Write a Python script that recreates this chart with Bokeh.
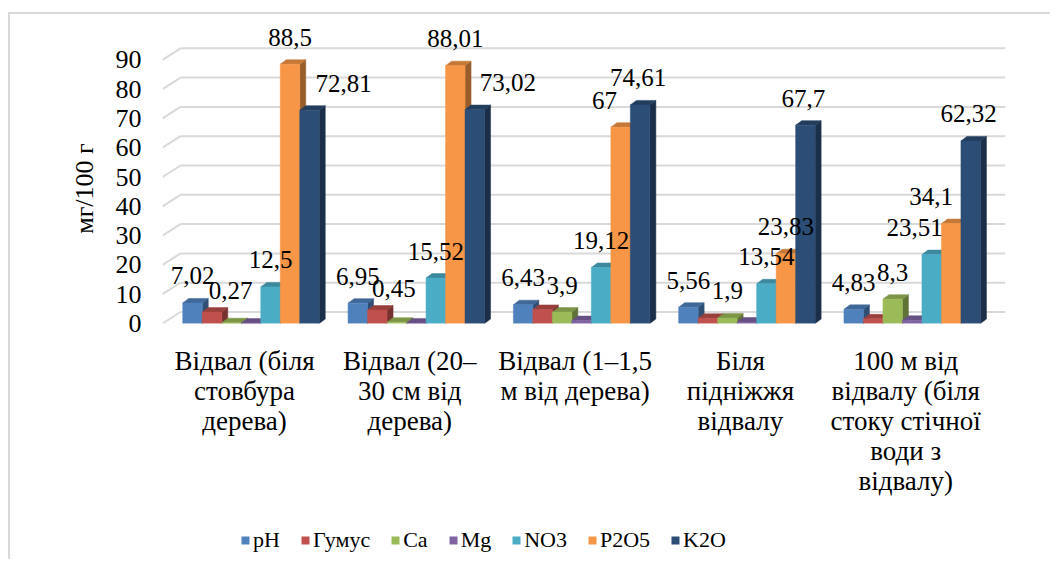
from bokeh.plotting import figure
from bokeh.layouts import column
from bokeh.models import Range1d, FixedTicker, ColumnDataSource, Legend, LegendItem
from bokeh.core.properties import value
from bokeh.embed import file_html
from bokeh.resources import INLINE

# ---------------- data ----------------
categories = [
    "Відвал (біля\nстовбура\nдерева)",
    "Відвал (20–\n30 см від\nдерева)",
    "Відвал (1–1,5\nм від дерева)",
    "Біля\nпідніжжя\nвідвалу",
    "100 м від\nвідвалу (біля\nстоку стічної\nводи з\nвідвалу)",
]
series_names = ["pH", "Гумус", "Ca", "Mg", "NO3", "P2O5", "K2O"]
ph = [7.02, 6.95, 6.43, 5.56, 4.83]
humus = [3.9, 4.6, 4.8, 1.8, 1.6]
ca = [0.27, 0.45, 3.9, 1.9, 8.3]
mg = [0.15, 0.2, 1.0, 0.5, 1.1]
no3 = [12.5, 15.52, 19.12, 13.54, 23.51]
p2o5 = [88.5, 88.01, 67, 23.83, 34.1]
k2o = [72.81, 73.02, 74.61, 67.7, 62.32]
y_ticks = [0, 10, 20, 30, 40, 50, 60, 70, 80, 90]
y_title = "мг/100 г"
series_values = [ph, humus, ca, mg, no3, p2o5, k2o]

# ---------------- styles ----------------
colors = ["#4F81BD", "#C0504D", "#9BBB59", "#8064A2", "#4BACC6", "#F79646", "#2C4D75"]
show_labels = [True, False, True, False, True, True, True]
label_dx = [  # screen px shifts of data labels
    [0, 0, 0, 0, 0],
    [0, 0, 0, 0, 0],
    [-1, -3, 0, 0, 0],
    [0, 0, 0, 0, 0],
    [0, 0, 0, 0, -17],
    [0, 0, -16, 0, -20],
    [34, 33, -2, -2, -2],
]
label_dy = [
    [-27] * 5,
    [-27] * 5,
    [-32, -34, -27, -27, -27],
    [-27] * 5,
    [-27] * 5,
    [-27] * 5,
    [-27] * 5,
]
FONT = "'Liberation Serif', 'Times New Roman', serif"
GRID = "#d9d9d9"

W, H = 1040, 495
LEG_H = 50
FR_L, FR_R, FR_B = 152, 995, 309          # frame edges in canvas px
PX_X = 165.3                              # px per category
PX_Y = 2.93                               # px per unit
x_start = -82 / PX_X
x_end = x_start + (FR_R - FR_L) / PX_X
y_end = FR_B / PX_Y

BAR_W = 19.5 / PX_X
BAR_SHIFT = 6.5 / PX_X
DX = 6 / PX_X
DY = 4.5 / PX_Y
WALL_DX = 18 / PX_X
WALL_DY = 11.5 / PX_Y


def shade(hex_color, f):
    h = hex_color.lstrip("#")
    r, g, b = (int(h[i:i + 2], 16) for i in (0, 2, 4))
    return "#%02x%02x%02x" % (int(r * f), int(g * f), int(b * f))


def centers(k, vals):
    n = len(series_names)
    return [i + BAR_SHIFT + (k - (n - 1) / 2) * BAR_W for i in range(len(vals))]


p = figure(width=W, height=H, output_backend="svg", toolbar_location=None,
           x_range=Range1d(x_start, x_end), y_range=Range1d(0, y_end),
           min_border_left=FR_L, min_border_right=W - FR_R,
           min_border_top=0, min_border_bottom=H - FR_B)
p.outline_line_color = None
p.grid.visible = False
p.background_fill_color = "white"
p.border_fill_color = "white"

# 3D-like gridlines (back wall + floor diagonal)
gx0, gy0, gx1, gy1 = [], [], [], []
for t in y_ticks:
    gx0 += [x_start, x_start + WALL_DX]
    gy0 += [t, t + WALL_DY]
    gx1 += [x_start + WALL_DX, x_end]
    gy1 += [t + WALL_DY, t + WALL_DY]
p.segment(gx0, gy0, gx1, gy1, line_color=GRID, line_width=2)

for k, (name, vals) in enumerate(zip(series_names, series_values)):
    cx = centers(k, vals)
    x0 = [c - BAR_W / 2 for c in cx]
    x1 = [c + BAR_W / 2 for c in cx]
    side_xs = [[b, b, b + DX, b + DX] for b in x1]
    side_ys = [[0, v, v + DY, DY] for v in vals]
    top_xs = [[a, b, b + DX, a + DX] for a, b in zip(x0, x1)]
    top_ys = [[v, v, v + DY, v + DY] for v in vals]
    p.patches(side_xs, side_ys, fill_color=shade(colors[k], 0.62),
              line_color=shade(colors[k], 0.62), line_width=0.5)
    p.patches(top_xs, top_ys, fill_color=shade(colors[k], 0.8),
              line_color=shade(colors[k], 0.8), line_width=0.5)
    p.vbar(x=cx, width=BAR_W, top=vals, bottom=0, fill_color=colors[k],
           line_color=colors[k], line_width=0.5)

for k, (name, vals) in enumerate(zip(series_names, series_values)):
    if not show_labels[k]:
        continue
    src = ColumnDataSource(dict(
        x=centers(k, vals), y=vals,
        t=[f"{v:g}".replace(".", ",") for v in vals],
        dx=label_dx[k], dy=label_dy[k]))
    p.text(x="x", y="y", text="t", x_offset="dx", y_offset="dy", source=src,
           text_font=value(FONT), text_font_size="25px", text_color="black",
           text_align="center", text_baseline="middle")

# y axis
ya = p.yaxis[0]
ya.ticker = FixedTicker(ticks=y_ticks)
ya.axis_line_color = None
ya.major_tick_line_color = None
ya.minor_tick_line_color = None
ya.major_label_standoff = 15
ya.major_label_text_font = FONT
ya.major_label_text_font_size = "26px"
ya.major_label_text_color = "black"
ya.axis_label = y_title + "\u00a0" * 6
ya.axis_label_text_font = FONT
ya.axis_label_text_font_size = "26px"
ya.axis_label_text_font_style = "normal"
ya.axis_label_text_color = "black"
ya.axis_label_standoff = 14

# x axis
xa = p.xaxis[0]
xa.ticker = FixedTicker(ticks=list(range(len(categories))))
xa.major_label_overrides = {i: c for i, c in enumerate(categories)}
xa.axis_line_color = None
xa.major_tick_line_color = None
xa.minor_tick_line_color = None
xa.major_label_standoff = 16
xa.major_label_text_font = FONT
xa.major_label_text_font_size = "27px"
xa.major_label_text_line_height = 1.0
xa.major_label_text_color = "black"

# legend in its own strip below (its renderers are hidden; only the key is shown)
pl = figure(width=W, height=LEG_H, output_backend="svg", toolbar_location=None,
            x_range=Range1d(x_start, x_end), y_range=Range1d(-1000, -999),
            x_axis_location=None, y_axis_location=None,
            min_border=0, outline_line_color=None)
pl.grid.visible = False
items = []
for k, (name, vals) in enumerate(zip(series_names, series_values)):
    r = pl.vbar(x=centers(k, vals), top=vals, bottom=0, width=BAR_W,
                fill_color=colors[k], line_color=None, visible=False)
    items.append(LegendItem(label=name, renderers=[r]))
legend = Legend(items=items, orientation="horizontal", location=(78, 6),
                glyph_width=10, glyph_height=10, label_standoff=3, spacing=20,
                label_text_font=FONT, label_text_font_size="22px",
                label_text_font_style="normal",
                label_text_color="black", border_line_color=None,
                background_fill_alpha=0, padding=0, margin=0,
                inactive_fill_alpha=0)
pl.add_layout(legend)

layout = column(p, pl, spacing=0,
                styles={"border-left": "2px solid #d9d9d9",
                        "border-top": "2px solid #d9d9d9",
                        "margin-top": "12px", "margin-left": "8px"})

open("out.html", "w").write(file_html(layout, INLINE))
